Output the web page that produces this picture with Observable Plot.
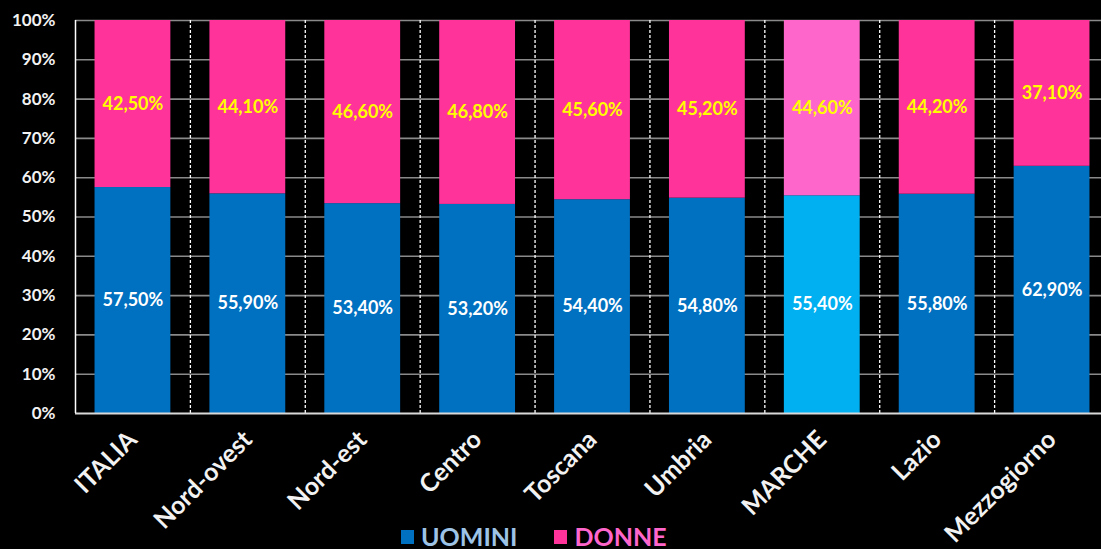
<!DOCTYPE html>
<html>
<head>
<meta charset="utf-8">
<script src="https://cdn.jsdelivr.net/npm/d3@7"></script>
<script src="https://cdn.jsdelivr.net/npm/@observablehq/plot@0.6"></script>
<style>
  html, body { margin: 0; padding: 0; background: #000; overflow: hidden; }
  #wrap { position: relative; width: 1101px; height: 549px; }
  #legend { position: absolute; left: 401px; top: 524px; display: flex; align-items: center;
            font-family: Lato, "Open Sans", sans-serif; font-weight: bold; font-size: 25px; line-height: 1; }
  .sw { display: inline-block; width: 13px; height: 14px; margin-right: 7px; }
  .item { display: flex; align-items: center; margin-right: 37px; }
</style>
</head>
<body>
<div id="wrap">
  <div id="chart"></div>
  <div id="legend"></div>
</div>
<script>
const categories = ["ITALIA", "Nord-ovest", "Nord-est", "Centro", "Toscana", "Umbria", "MARCHE", "Lazio", "Mezzogiorno"];
const series = ["UOMINI", "DONNE"];
const uomini = [57.5, 55.9, 53.4, 53.2, 54.4, 54.8, 55.4, 55.8, 62.9];
const donne  = [42.5, 44.1, 46.6, 46.8, 45.6, 45.2, 44.6, 44.2, 37.1];
const yTicks = [0, 10, 20, 30, 40, 50, 60, 70, 80, 90, 100];

const highlight = "MARCHE";
const colors = {
  UOMINI: {normal: "#0070C0", highlight: "#00B0F0", label: "#ffffff", legend: "#9DC3E6"},
  DONNE:  {normal: "#FF3399", highlight: "#FF66CC", label: "#FFFF00", legend: "#FF66CC"}
};

const rows = [];
categories.forEach((c, i) => {
  rows.push({region: c, sex: "UOMINI", value: uomini[i]});
  rows.push({region: c, sex: "DONNE", value: donne[i]});
});
const fmt = v => v.toFixed(2).replace(".", ",") + "%";
const font = "Lato, 'Open Sans', sans-serif";

const left = 75, plotW = 1034;
const step = plotW / categories.length;

const chart = Plot.plot({
  width: 1101,
  height: 549,
  marginLeft: left,
  marginRight: 0,
  marginTop: 20,
  marginBottom: 136,
  style: {background: "#000", fontFamily: font},
  x: {domain: categories, range: [left, left + plotW], paddingInner: 0.34, paddingOuter: 0.17, round: false},
  y: {domain: [0, 100]},
  color: {type: "identity"},
  marks: [
    Plot.ruleY(yTicks.slice(1), {y: d => d, stroke: "#8a8a8a", strokeWidth: 1.6}),
    Plot.ruleX(categories.slice(1), {x: d => d, dx: -step / 2, y1: 0, y2: 100, stroke: "#ffffff", strokeWidth: 1.3, strokeDasharray: "3,2"}),
    Plot.barY(rows, Plot.stackY({
      x: "region", y: "value", z: "sex", order: series,
      fill: d => colors[d.sex][d.region === highlight ? "highlight" : "normal"]
    })),
    Plot.text(rows, Plot.stackY({
      x: "region", y: "value", z: "sex", order: series,
      text: d => fmt(d.value),
      fill: d => colors[d.sex].label,
      fontSize: 18, fontWeight: "bold", fontFamily: font
    })),
    Plot.ruleY([0], {stroke: "#d9d9d9", strokeWidth: 2}),
    Plot.ruleX([categories[0]], {x: d => d, dx: -step / 2, y1: 0, y2: 100, stroke: "#ffffff", strokeWidth: 1.5}),
    Plot.axisY({ticks: yTicks, tickFormat: d => d + "%", tickSize: 0, tickPadding: 20, label: null,
      fontSize: 17, fontWeight: "bold", fill: "#f2f2f2", fontFamily: font}),
    Plot.axisX({tickRotate: -45, tickSize: 0, tickPadding: 22, label: null,
      fontSize: 25, fontWeight: "bold", fill: "#f2f2f2", fontFamily: font})
  ]
});
document.getElementById("chart").appendChild(chart);

const legend = document.getElementById("legend");
series.forEach(s => {
  const item = document.createElement("div");
  item.className = "item";
  const sw = document.createElement("span");
  sw.className = "sw";
  sw.style.background = colors[s].normal;
  const t = document.createElement("span");
  t.textContent = s;
  t.style.color = colors[s].legend;
  item.appendChild(sw);
  item.appendChild(t);
  legend.appendChild(item);
});
</script>
</body>
</html>
